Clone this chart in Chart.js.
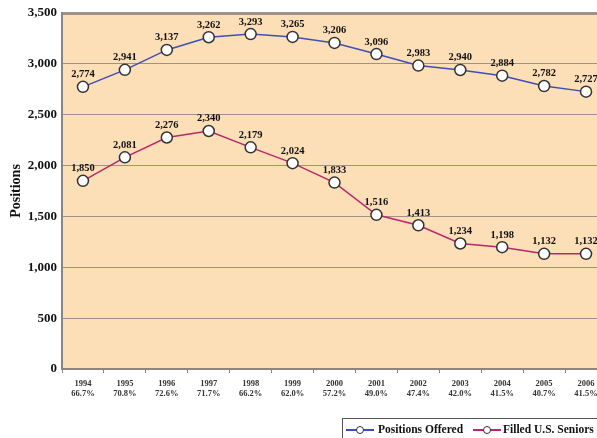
<!DOCTYPE html>
<html>
<head>
<meta charset="utf-8">
<script src="https://cdn.jsdelivr.net/npm/chart.js@4/dist/chart.umd.min.js"></script>
<style>
  body { margin:0; background:#fff; overflow:hidden; width:597px; height:438px; }
  #wrap { position:absolute; left:0; top:0; width:614px; height:438px; }
  #legend { position:absolute; left:342px; top:418px; width:280px; height:24px; border:1px solid #555;
    font:bold 11.5px "Liberation Serif", serif; color:#111; white-space:nowrap; }
  #legend span { position:absolute; top:4px; }
  .sym { position:absolute; top:10px; width:28px; height:2px; }
  .sym i { position:absolute; left:10px; top:-3px; width:6px; height:6px; border:1px solid #333; border-radius:50%; background:#fff; }
</style>
</head>
<body>
<div id="wrap"><canvas id="myChart" width="614" height="438"></canvas></div>
<div id="legend">
  <div class="sym" style="left:3px;background:#3e4fb8"><i></i></div><span style="left:35px">Positions Offered</span>
  <div class="sym" style="left:130px;background:#b8286c"><i></i></div><span style="left:160px">Filled U.S. Seniors</span>
</div>
<script>
var years = ['1994','1995','1996','1997','1998','1999','2000','2001','2002','2003','2004','2005','2006'];
var filledPct = ['66.7%','70.8%','72.6%','71.7%','66.2%','62.0%','57.2%','49.0%','47.4%','42.0%','41.5%','40.7%','41.5%'];
var positionsOffered = [2774, 2941, 3137, 3262, 3293, 3265, 3206, 3096, 2983, 2940, 2884, 2782, 2727];
var filledSeniors = [1850, 2081, 2276, 2340, 2179, 2024, 1833, 1516, 1413, 1234, 1198, 1132, 1132];

var labels = years.map(function (y, i) { return [y, filledPct[i]]; });

var bgPlugin = {
  id: 'plotBg',
  beforeDraw: function (chart) {
    var a = chart.chartArea, c = chart.ctx;
    c.save();
    c.fillStyle = '#fcdeb7';
    c.fillRect(a.left, a.top, a.right - a.left, a.bottom - a.top);
    c.restore();
  }
};

var valuePlugin = {
  id: 'values',
  afterDatasetsDraw: function (chart) {
    var c = chart.ctx;
    c.save();
    c.font = 'bold 10.5px "Liberation Serif", serif';
    c.fillStyle = '#111';
    c.textAlign = 'center';
    c.textBaseline = 'bottom';
    chart.data.datasets.forEach(function (ds, di) {
      chart.getDatasetMeta(di).data.forEach(function (pt, i) {
        c.fillText(ds.data[i].toLocaleString('en-US'), pt.x, pt.y - 7);
      });
    });
    c.restore();
  }
};

var myChart = new Chart(document.getElementById('myChart').getContext('2d'), {
  type: 'line',
  data: {
    labels: labels,
    datasets: [{
      label: 'Positions Offered',
      data: positionsOffered,
      borderColor: '#3e4fb8',
      borderWidth: 1.5,
      pointRadius: 5.5,
      pointBackgroundColor: '#fff',
      pointBorderColor: '#333',
      pointBorderWidth: 1.5
    }, {
      label: 'Filled U.S. Seniors',
      data: filledSeniors,
      borderColor: '#b8286c',
      borderWidth: 1.5,
      pointRadius: 5.5,
      pointBackgroundColor: '#fff',
      pointBorderColor: '#333',
      pointBorderWidth: 1.5
    }]
  },
  options: {
    responsive: false,
    animation: false,
    layout: { padding: { top: 13, right: 0, left: 0, bottom: 0 } },
    plugins: {
      legend: { display: false },
      tooltip: { enabled: false }
    },
    scales: {
      x: {
        offset: true,
        afterFit: function (s) { s.height = 69; },
        grid: { offset: true, drawOnChartArea: false, tickLength: 4, color: '#8a8580' },
        border: { color: '#8a8580', width: 2 },
        ticks: {
          color: '#333', padding: 6, maxRotation: 0, autoSkip: false,
          font: { family: '"Liberation Serif", serif', size: 8.5, weight: 'bold', lineHeight: 1.15 }
        }
      },
      y: {
        min: 0, max: 3500,
        afterFit: function (s) { s.width = 62; },
        ticks: {
          stepSize: 500, color: '#111', padding: 5,
          font: { family: '"Liberation Serif", serif', size: 13, weight: 'bold' },
          callback: function (v) { return v.toLocaleString('en-US'); }
        },
        grid: {
          drawTicks: false,
          color: '#9b928a',
          lineWidth: function (ctx) { return ctx.tick && ctx.tick.value === 3500 ? 3 : 1; }
        },
        border: { color: '#8a8580', width: 2 },
        title: {
          display: true, text: 'Positions', color: '#111', padding: { top: 8, bottom: 0 },
          font: { family: '"Liberation Serif", serif', size: 14, weight: 'bold' }
        }
      }
    }
  },
  plugins: [bgPlugin, valuePlugin]
});
</script>
</body>
</html>
